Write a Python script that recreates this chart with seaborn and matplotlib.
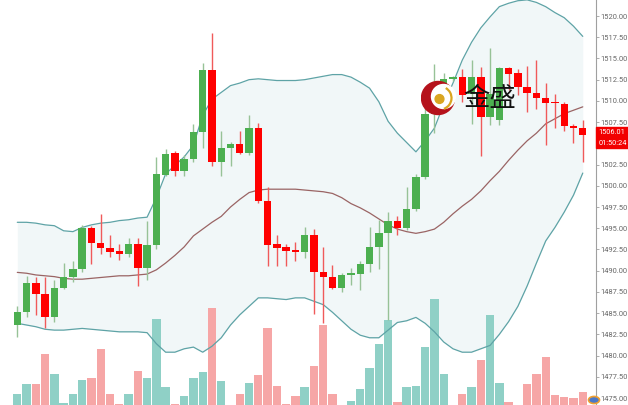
import numpy as np
import pandas as pd
import matplotlib
matplotlib.use("Agg")
import matplotlib.pyplot as plt
import seaborn as sns
from matplotlib.patches import Circle, Rectangle, Arc

# ---------------- data ----------------
opens = [1483.6, 1485.1, 1488.6, 1487.3, 1484.6, 1488.0, 1489.2, 1490.2, 1495.0, 1493.3,
         1492.7, 1492.3, 1492.0, 1493.1, 1490.3, 1493.0, 1501.3, 1503.9, 1501.7, 1503.2,
         1506.3, 1513.6, 1502.8, 1504.5, 1504.9, 1503.9, 1506.8, 1498.2, 1493.1, 1492.8,
         1492.4, 1492.2, 1494.2, 1489.8, 1489.2, 1488.0, 1489.5, 1489.6, 1490.8, 1492.8,
         1494.4, 1495.9, 1495.0, 1497.3, 1501.0, 1508.5, 1511.5, 1512.6, 1512.8, 1510.8,
         1512.8, 1508.1, 1507.8, 1513.9, 1513.3, 1511.6, 1510.9, 1510.4, 1509.9, 1509.6,
         1507.0, 1506.8]
closes = [1485.1, 1488.6, 1487.3, 1484.5, 1488.0, 1489.2, 1490.2, 1495.0, 1493.3, 1492.7,
          1492.2, 1492.0, 1493.1, 1490.3, 1493.0, 1501.4, 1503.8, 1501.7, 1503.2, 1506.3,
          1513.6, 1502.8, 1504.5, 1504.9, 1503.9, 1506.8, 1498.2, 1493.0, 1492.7, 1492.3,
          1492.2, 1494.2, 1489.8, 1489.2, 1488.0, 1489.5, 1489.7, 1490.8, 1492.8, 1494.4,
          1495.9, 1495.0, 1497.3, 1501.0, 1508.5, 1512.0, 1512.6, 1512.8, 1510.7, 1512.8,
          1508.1, 1510.8, 1513.9, 1513.2, 1511.6, 1510.9, 1510.4, 1509.8, 1509.7, 1507.0,
          1506.8, 1506.01]
highs = [1485.8, 1489.4, 1489.3, 1489.3, 1488.9, 1490.9, 1491.2, 1495.4, 1495.3, 1496.7,
         1494.2, 1493.2, 1493.9, 1493.8, 1495.8, 1503.4, 1504.3, 1504.1, 1503.6, 1507.3,
         1514.5, 1518.0, 1506.4, 1505.1, 1506.4, 1508.3, 1507.4, 1499.8, 1494.2, 1493.2,
         1493.4, 1495.2, 1494.9, 1492.8, 1490.7, 1489.7, 1490.3, 1491.1, 1495.2, 1496.0,
         1496.9, 1496.4, 1499.8, 1501.4, 1509.4, 1514.3, 1513.3, 1512.9, 1513.8, 1514.8,
         1514.0, 1516.2, 1514.0, 1514.0, 1513.7, 1514.1, 1514.8, 1512.1, 1510.8, 1509.9,
         1507.3, 1507.7]
lows = [1482.2, 1484.6, 1484.8, 1483.2, 1484.0, 1487.8, 1488.7, 1489.9, 1490.8, 1492.0,
        1491.6, 1491.3, 1491.6, 1488.2, 1488.9, 1492.6, 1501.1, 1501.2, 1501.2, 1502.8,
        1504.5, 1502.3, 1501.1, 1502.3, 1503.7, 1503.6, 1498.0, 1490.5, 1490.6, 1490.6,
        1491.1, 1491.5, 1484.9, 1483.8, 1487.9, 1487.5, 1488.3, 1487.7, 1489.9, 1490.2,
        1484.2, 1494.2, 1494.8, 1497.0, 1500.8, 1506.2, 1510.5, 1512.4, 1509.9, 1507.3,
        1503.5, 1507.2, 1507.2, 1511.3, 1510.7, 1508.7, 1509.1, 1504.8, 1506.8, 1506.4,
        1505.0, 1502.8]
volumes = [107, 210, 210, 507, 307, 23, 110, 250, 273, 557,
           110, 10, 110, 343, 273, 863, 177, 10, 87, 267,
           330, 967, 243, 5, 107, 223, 300, 767, 190, 10,
           90, 183, 393, 800, 110, 5, 40, 157, 373, 607,
           853, 33, 183, 190, 583, 1057, 307, 5, 110, 183,
           450, 900, 223, 33, 5, 210, 310, 477, 100, 77,
           67, 133]
upper_band = [1495.7, 1495.7, 1495.6, 1495.4, 1495.3, 1494.7, 1494.6, 1495.1, 1495.4, 1495.6,
              1495.7, 1495.9, 1496.0, 1496.2, 1496.3, 1498.6, 1501.4, 1502.4, 1503.4, 1504.8,
              1508.3, 1510.2, 1511.0, 1511.8, 1512.1, 1512.5, 1512.6, 1512.5, 1512.4, 1512.4,
              1512.4, 1512.5, 1512.7, 1512.9, 1513.1, 1513.1, 1512.8, 1512.2, 1511.5, 1509.9,
              1507.6, 1506.2, 1505.1, 1504.0, 1505.3, 1506.8, 1509.6, 1512.1, 1514.8, 1516.9,
              1518.6, 1519.9, 1521.1, 1521.5, 1521.8, 1521.9, 1521.6, 1521.1, 1520.4, 1519.8,
              1518.8, 1517.6]
middle_band = [1489.8, 1489.7, 1489.5, 1489.4, 1489.3, 1489.1, 1489.0, 1489.0, 1489.1, 1489.2,
               1489.3, 1489.4, 1489.4, 1489.5, 1489.6, 1490.1, 1490.9, 1491.8, 1492.8, 1494.1,
               1494.9, 1495.7, 1496.4, 1497.5, 1498.4, 1499.2, 1499.5, 1499.6, 1499.6, 1499.6,
               1499.6, 1499.5, 1499.4, 1499.3, 1499.1, 1498.6, 1497.9, 1497.4, 1496.8, 1496.1,
               1495.4, 1494.9, 1494.6, 1494.4, 1494.6, 1494.9, 1495.7, 1496.7, 1497.6, 1498.4,
               1499.4, 1500.6, 1501.7, 1503.0, 1504.2, 1505.3, 1506.2, 1507.3, 1507.9, 1508.5,
               1508.9, 1509.3]
lower_band = [1483.8, 1483.6, 1483.4, 1483.1, 1483.0, 1483.0, 1483.1, 1483.2, 1483.1, 1483.0,
              1482.9, 1482.8, 1482.8, 1482.8, 1482.7, 1481.4, 1480.4, 1480.4, 1480.8, 1481.0,
              1480.4, 1481.1, 1482.1, 1483.6, 1484.8, 1485.8, 1486.8, 1486.8, 1486.7, 1486.6,
              1486.8, 1486.8, 1486.4, 1486.0, 1485.1, 1484.1, 1483.1, 1482.4, 1482.1, 1482.1,
              1483.0, 1483.9, 1484.1, 1484.5, 1483.8, 1482.8, 1481.6, 1480.8, 1480.4, 1480.4,
              1480.8, 1481.2, 1482.5, 1484.0, 1485.8, 1488.2, 1490.9, 1493.5, 1495.1, 1496.9,
              1498.9, 1501.5]
# 1505.00 sits under the last-price box in the reference, so it is not shown
price_ticks = [1475.0, 1477.5, 1480.0, 1482.5, 1485.0, 1487.5, 1490.0, 1492.5, 1495.0, 1497.5,
               1500.0, 1502.5, 1507.5, 1510.0, 1512.5, 1515.0, 1517.5, 1520.0]
price_tick_labels = ["1475.00", "1477.50", "1480.00", "1482.50", "1485.00", "1487.50", "1490.00",
                     "1492.50", "1495.00", "1497.50", "1500.00", "1502.50", "1507.50",
                     "1510.00", "1512.50", "1515.00", "1517.50", "1520.00"]
last_price_label = "1506.01"
countdown_label = "01:50:24"
watermark_text = "金盛"

# ---------------- style ----------------
sns.set_theme(style="white")
plt.rcParams['font.family'] = ['Roboto', 'DejaVu Sans']

UP = '#4caf50'
DOWN = '#ff0000'
UP_WICK = '#97c297'
DOWN_WICK = '#f05a5a'
VOL_UP = '#8fd0c6'
VOL_DOWN = '#f6a6a6'
BAND = '#5ea3a6'
MID = '#9a6464'
FILL = '#f1f7f8'

W, H = 628, 405
fig = plt.figure(figsize=(W / 100, H / 100), dpi=100)
fig.patch.set_facecolor('white')

axv = fig.add_axes([0, 0, 596 / W, 1])
ax = axv.twinx()

idx = np.arange(len(opens))
o = np.array(opens); c = np.array(closes)
up = c >= o

# band fill (drawn in price coordinates, under the volume bars)
axv.fill_between(idx, lower_band, upper_band, transform=ax.transData,
                 color=FILL, lw=0, zorder=0)

# volume bars
df_v = pd.DataFrame({'idx': idx, 'vol': volumes, 'dir': np.where(up, 'up', 'down')})
sns.barplot(data=df_v, x='idx', y='vol', hue='dir', palette={'up': VOL_UP, 'down': VOL_DOWN},
            native_scale=True, dodge=False, width=0.9, saturation=1, linewidth=0,
            legend=False, ax=axv, zorder=2)
axv.set_ylim(0, 4050)

# bollinger lines
df_b = pd.DataFrame({'idx': idx, 'upper': upper_band, 'middle': middle_band, 'lower': lower_band})
sns.lineplot(data=df_b, x='idx', y='upper', ax=ax, color=BAND, lw=0.9, zorder=3)
sns.lineplot(data=df_b, x='idx', y='lower', ax=ax, color=BAND, lw=0.9, zorder=3)
sns.lineplot(data=df_b, x='idx', y='middle', ax=ax, color=MID, lw=0.9, zorder=3)

# candles
body_low = np.minimum(o, c)
body_h = np.maximum(np.abs(c - o), 0.2)
ax.vlines(idx, lows, highs, colors=np.where(up, UP_WICK, DOWN_WICK), lw=1.0, zorder=4)
ax.bar(idx, body_h, bottom=body_low, width=0.8, color=np.where(up, UP, DOWN),
       linewidth=0, zorder=5)

# axes styling
xl = (-17.3 / 9.27, (596 - 17.3) / 9.27)
ax.set_xlim(*xl)
axv.set_xlim(*xl)
ax.set_ylim(1474.18, 1521.885)
for a in (ax, axv):
    a.set_xlabel('')
    a.set_ylabel('')
    a.set_xticks([])
    for s in ('top', 'left', 'bottom'):
        a.spines[s].set_visible(False)
axv.set_yticks([])
axv.spines['right'].set_visible(False)
ax.spines['right'].set_visible(True)
ax.spines['right'].set_color('#a0a0a0')
ax.spines['right'].set_linewidth(0.8)
ax.set_yticks(price_ticks)
ax.set_yticklabels(price_tick_labels)
ax.tick_params(axis='y', which='major', right=True, left=False, length=2.2, width=0.6,
               color='#a0a0a0', labelsize=5.4, labelcolor='#666666', pad=1.2, direction='out')
ax.grid(False); axv.grid(False)

# watermark logo
axl = fig.add_axes([421 / W, 1 - 116 / H, 36 / W, 36 / H])
axl.set_xlim(0, 36); axl.set_ylim(0, 36); axl.axis('off')
axl.add_patch(Circle((17, 18), 16.5, color='#b5121b', zorder=1))
axl.add_patch(Circle((22.5, 19.5), 12.0, color='white', zorder=2))
axl.add_patch(Circle((18.5, 17), 4.4, color='#d9a520', zorder=3))
axl.add_patch(Arc((19, 18), 23, 23, theta1=-70, theta2=60, color='#d9a520', lw=1.6, zorder=3))
fig.text(490 / W, 1 - 99 / H, watermark_text, fontsize=19, family=['Noto Sans CJK SC'],
         ha='center', va='center', color='#111111', zorder=10)

# last price box
fig.add_artist(Rectangle((596 / W, 1 - 148.3 / H), 32 / W, 21.6 / H, transform=fig.transFigure,
                         color='#f20000', zorder=20))
fig.text(598.5 / W, 1 - 132.3 / H, last_price_label, fontsize=5.3, color='white',
         ha='left', va='center', zorder=21)
fig.text(598.5 / W, 1 - 143.3 / H, countdown_label, fontsize=5.3, color='white',
         ha='left', va='center', zorder=21)

# small corner icon
fig.add_artist(Circle((594 / W, 1 - 400 / H), 5.5 / W, transform=fig.transFigure,
                      facecolor='#4a78c8', edgecolor='#f0a030', lw=1.2, zorder=22))

fig.savefig('out.png', dpi=100, facecolor='white')
